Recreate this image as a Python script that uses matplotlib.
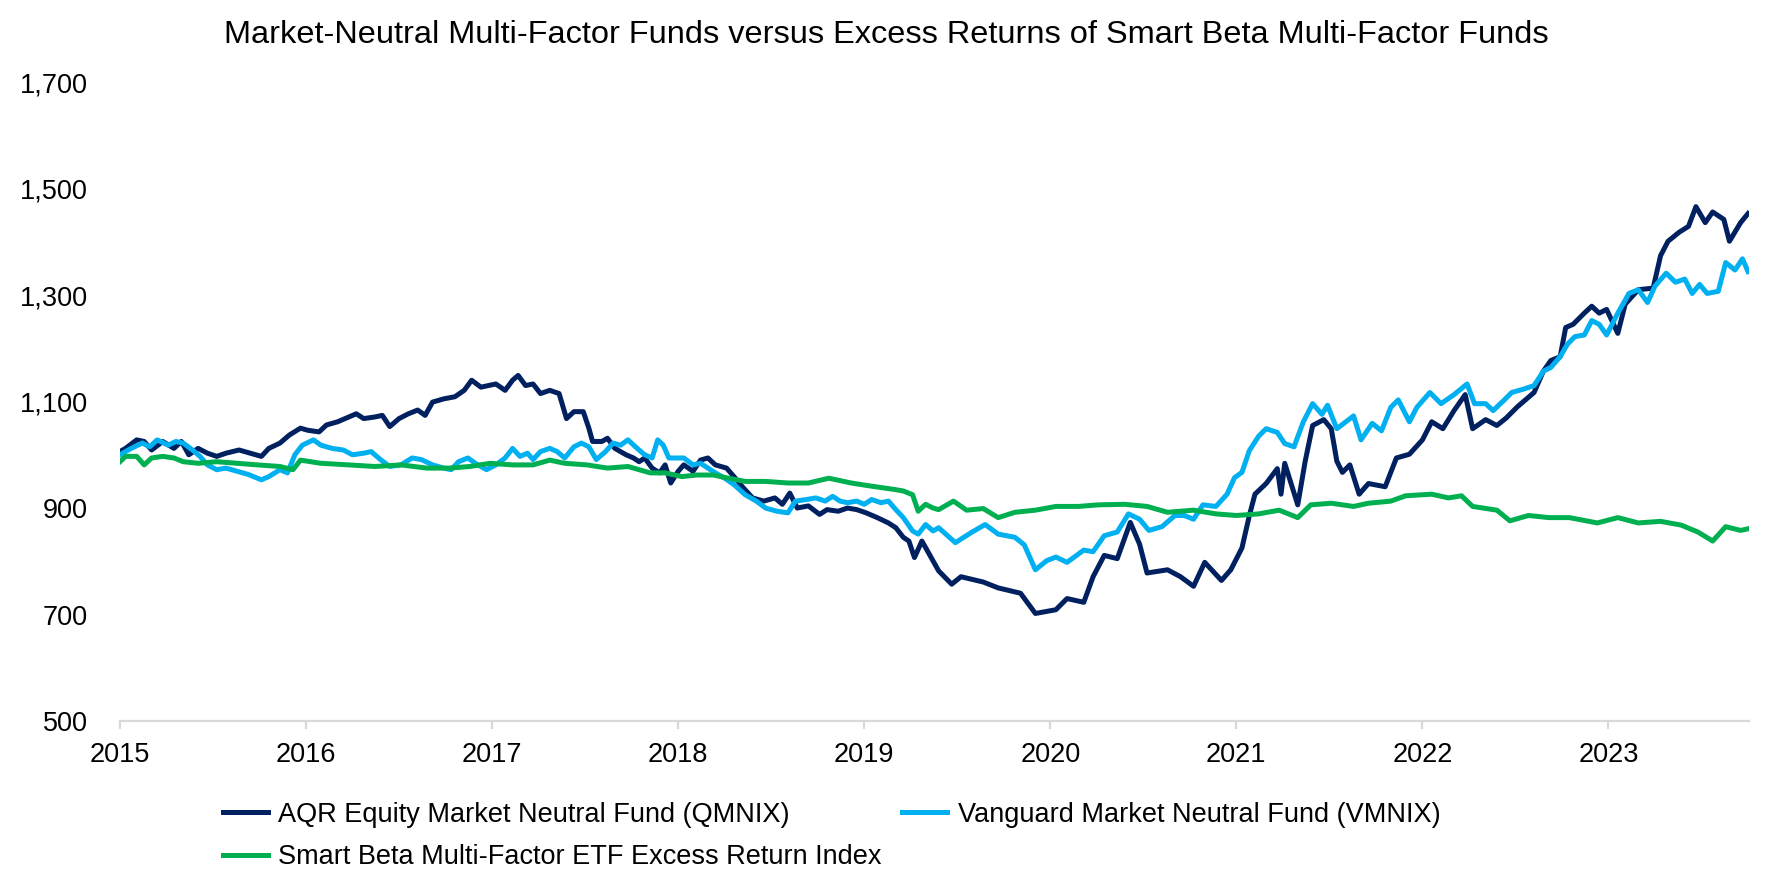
import matplotlib
matplotlib.use('Agg')
import matplotlib.pyplot as plt
from matplotlib.ticker import FuncFormatter

plt.rcParams['font.family'] = ['Liberation Sans', 'DejaVu Sans']

# values (decimal year, index level)
aqr_t = [2015.00, 2015.03, 2015.09, 2015.13, 2015.17, 2015.23, 2015.29, 2015.33, 2015.37, 2015.42,
         2015.47, 2015.52, 2015.57, 2015.64, 2015.70, 2015.76, 2015.80, 2015.86, 2015.91, 2015.97,
         2016.01, 2016.07, 2016.11, 2016.17, 2016.23, 2016.27, 2016.31, 2016.37, 2016.41, 2016.45,
         2016.50, 2016.55, 2016.60, 2016.64, 2016.68, 2016.74, 2016.80, 2016.85, 2016.89, 2016.94,
         2016.98, 2017.02, 2017.07, 2017.11, 2017.14, 2017.18, 2017.22, 2017.26, 2017.31, 2017.36,
         2017.40, 2017.44, 2017.49, 2017.52, 2017.54, 2017.59, 2017.62, 2017.66, 2017.72, 2017.76,
         2017.79, 2017.82, 2017.86, 2017.90, 2017.93, 2017.96, 2018.00, 2018.03, 2018.08, 2018.12,
         2018.16, 2018.20, 2018.26, 2018.30, 2018.35, 2018.40, 2018.46, 2018.52, 2018.56, 2018.60,
         2018.64, 2018.70, 2018.76, 2018.80, 2018.86, 2018.91, 2018.96, 2019.01, 2019.07, 2019.13,
         2019.17, 2019.21, 2019.24, 2019.27, 2019.31, 2019.36, 2019.40, 2019.47, 2019.52, 2019.64,
         2019.72, 2019.84, 2019.92, 2020.03, 2020.09, 2020.18, 2020.23, 2020.29, 2020.36, 2020.43,
         2020.48, 2020.52, 2020.63, 2020.70, 2020.77, 2020.83, 2020.92, 2020.97, 2021.03, 2021.07,
         2021.10, 2021.16, 2021.22, 2021.24, 2021.26, 2021.33, 2021.37, 2021.41, 2021.47, 2021.51,
         2021.54, 2021.57, 2021.61, 2021.66, 2021.71, 2021.80, 2021.86, 2021.93, 2022.00, 2022.05,
         2022.11, 2022.17, 2022.23, 2022.27, 2022.34, 2022.40, 2022.45, 2022.51, 2022.60, 2022.65,
         2022.69, 2022.74, 2022.77, 2022.81, 2022.87, 2022.91, 2022.95, 2022.99, 2023.05, 2023.09,
         2023.16, 2023.24, 2023.28, 2023.32, 2023.38, 2023.43, 2023.47, 2023.52, 2023.56, 2023.62,
         2023.65, 2023.71, 2023.75]
aqr_v = [1006, 1012, 1028, 1025, 1009, 1025, 1012, 1025, 1000, 1012,
         1003, 997, 1003, 1009, 1003, 997, 1012, 1022, 1037, 1050,
         1046, 1043, 1056, 1062, 1071, 1077, 1068, 1071, 1074, 1053,
         1068, 1077, 1084, 1074, 1099, 1105, 1109, 1121, 1140, 1127,
         1130, 1133, 1121, 1140, 1149, 1130, 1133, 1115, 1121, 1115,
         1068, 1081, 1081, 1050, 1025, 1025, 1031, 1012, 1000, 994,
         987, 994, 975, 966, 981, 947, 969, 981, 969, 990,
         994, 981, 975, 959, 938, 919, 913, 919, 907, 928,
         900, 904, 888, 897, 894, 900, 897, 891, 882, 872,
         863, 845, 838, 807, 838, 807, 782, 757, 771, 761,
         750, 740, 702, 709, 730, 723, 771, 811, 805, 873,
         832, 778, 784, 771, 753, 798, 764, 784, 825, 886,
         926, 946, 974, 926, 984, 906, 988, 1055, 1066, 1049,
         988, 967, 981, 926, 946, 940, 994, 1001, 1028, 1062,
         1049, 1083, 1113, 1049, 1066, 1055, 1069, 1090, 1117, 1157,
         1177, 1184, 1239, 1245, 1266, 1279, 1266, 1273, 1228, 1283,
         1310, 1313, 1374, 1401, 1418, 1429, 1466, 1436, 1456, 1442,
         1401, 1436, 1453]

vmnix_t = [2015.00, 2015.06, 2015.12, 2015.16, 2015.20, 2015.26, 2015.30, 2015.34, 2015.39, 2015.43,
           2015.47, 2015.52, 2015.57, 2015.63, 2015.69, 2015.76, 2015.80, 2015.86, 2015.90, 2015.94,
           2015.98, 2016.04, 2016.08, 2016.14, 2016.20, 2016.25, 2016.31, 2016.35, 2016.40, 2016.45,
           2016.51, 2016.57, 2016.62, 2016.68, 2016.74, 2016.78, 2016.82, 2016.87, 2016.91, 2016.97,
           2017.02, 2017.07, 2017.11, 2017.15, 2017.19, 2017.22, 2017.26, 2017.31, 2017.35, 2017.39,
           2017.44, 2017.48, 2017.52, 2017.56, 2017.61, 2017.65, 2017.69, 2017.73, 2017.78, 2017.82,
           2017.86, 2017.89, 2017.92, 2017.95, 2017.99, 2018.03, 2018.08, 2018.12, 2018.16, 2018.20,
           2018.25, 2018.30, 2018.36, 2018.42, 2018.47, 2018.53, 2018.59, 2018.63, 2018.69, 2018.74,
           2018.79, 2018.83, 2018.87, 2018.91, 2018.96, 2019.00, 2019.04, 2019.09, 2019.13, 2019.17,
           2019.21, 2019.26, 2019.29, 2019.33, 2019.37, 2019.40, 2019.49, 2019.58, 2019.65, 2019.72,
           2019.81, 2019.86, 2019.92, 2019.98, 2020.03, 2020.09, 2020.18, 2020.23, 2020.29, 2020.36,
           2020.42, 2020.48, 2020.53, 2020.60, 2020.67, 2020.72, 2020.77, 2020.82, 2020.89, 2020.95,
           2020.99, 2021.03, 2021.07, 2021.12, 2021.16, 2021.22, 2021.26, 2021.31, 2021.36, 2021.41,
           2021.46, 2021.49, 2021.54, 2021.63, 2021.67, 2021.73, 2021.78, 2021.83, 2021.87, 2021.93,
           2021.97, 2022.04, 2022.10, 2022.17, 2022.24, 2022.28, 2022.34, 2022.38, 2022.44, 2022.48,
           2022.54, 2022.60, 2022.65, 2022.69, 2022.74, 2022.78, 2022.82, 2022.87, 2022.91, 2022.95,
           2022.99, 2023.05, 2023.11, 2023.16, 2023.21, 2023.25, 2023.31, 2023.36, 2023.41, 2023.45,
           2023.49, 2023.53, 2023.59, 2023.63, 2023.68, 2023.72, 2023.75]
vmnix_v = [1000, 1012, 1022, 1015, 1028, 1018, 1025, 1022, 1009, 997,
           981, 972, 975, 969, 963, 953, 959, 972, 966, 1000,
           1018, 1028, 1018, 1012, 1009, 1000, 1003, 1006, 991, 978,
           981, 994, 991, 981, 975, 972, 987, 994, 984, 972,
           981, 994, 1012, 997, 1003, 991, 1006, 1012, 1006, 994,
           1015, 1022, 1015, 991, 1006, 1022, 1018, 1028, 1012, 1000,
           994, 1028, 1018, 994, 994, 994, 981, 984, 975, 966,
           956, 944, 925, 913, 900, 894, 891, 913, 916, 919,
           913, 922, 913, 910, 913, 907, 916, 910, 913, 897,
           882, 857, 851, 869, 857, 863, 835, 855, 869, 851,
           845, 831, 784, 801, 808, 798, 821, 818, 848, 855,
           889, 879, 858, 865, 886, 886, 879, 906, 903, 926,
           957, 967, 1008, 1035, 1049, 1042, 1021, 1015, 1062, 1096,
           1076, 1093, 1049, 1073, 1028, 1059, 1045, 1089, 1103, 1062,
           1089, 1117, 1096, 1113, 1133, 1096, 1096, 1083, 1103, 1117,
           1123, 1130, 1157, 1164, 1184, 1208, 1222, 1225, 1252, 1245,
           1225, 1266, 1303, 1310, 1286, 1317, 1341, 1324, 1330, 1303,
           1320, 1303, 1307, 1361, 1347, 1368, 1344]

smart_t = [2015.00, 2015.03, 2015.09, 2015.13, 2015.17, 2015.23, 2015.29, 2015.34, 2015.42, 2015.52,
           2015.63, 2015.74, 2015.86, 2015.93, 2015.97, 2016.08, 2016.23, 2016.37, 2016.51, 2016.65,
           2016.77, 2016.88, 2016.99, 2017.11, 2017.22, 2017.31, 2017.39, 2017.51, 2017.62, 2017.73,
           2017.85, 2017.93, 2018.02, 2018.10, 2018.19, 2018.27, 2018.36, 2018.47, 2018.59, 2018.70,
           2018.81, 2018.93, 2019.04, 2019.16, 2019.21, 2019.26, 2019.29, 2019.33, 2019.37, 2019.40,
           2019.48, 2019.55, 2019.64, 2019.72, 2019.81, 2019.92, 2020.03, 2020.15, 2020.26, 2020.40,
           2020.52, 2020.63, 2020.77, 2020.89, 2021.00, 2021.12, 2021.23, 2021.33, 2021.40, 2021.51,
           2021.63, 2021.71, 2021.83, 2021.91, 2022.05, 2022.14, 2022.21, 2022.27, 2022.40, 2022.47,
           2022.57, 2022.68, 2022.79, 2022.94, 2023.05, 2023.16, 2023.28, 2023.39, 2023.48, 2023.56,
           2023.63, 2023.71, 2023.75]
smart_v = [987, 997, 997, 981, 994, 997, 994, 987, 984, 987,
           984, 981, 978, 972, 990, 984, 981, 978, 981, 975,
           975, 978, 984, 981, 981, 990, 984, 981, 975, 978,
           966, 966, 959, 962, 962, 956, 950, 950, 947, 947,
           956, 947, 941, 935, 932, 925, 894, 907, 900, 897,
           913, 896, 899, 882, 892, 896, 903, 903, 906, 907,
           903, 892, 896, 889, 886, 889, 896, 882, 906, 909,
           903, 909, 913, 923, 926, 919, 923, 903, 896, 876,
           886, 882, 882, 872, 882, 872, 875, 868, 855, 838,
           865, 858, 861]

labels = ['AQR Equity Market Neutral Fund (QMNIX)',
          'Vanguard Market Neutral Fund (VMNIX)',
          'Smart Beta Multi-Factor ETF Excess Return Index']
colors = ['#002060', '#00B0F0', '#00B050']
years = list(range(2015, 2024))

fig = plt.figure(figsize=(17.72, 8.86), dpi=100)
ax = fig.add_axes([0.0677, 0.1862, 0.9193, 0.7212])

l1, = ax.plot(aqr_t, aqr_v, color=colors[0], lw=3.6, label=labels[0])
l2, = ax.plot(vmnix_t, vmnix_v, color=colors[1], lw=3.6, label=labels[1])
l3, = ax.plot(smart_t, smart_v, color=colors[2], lw=3.6, label=labels[2])

ax.set_xlim(2015.0, 2023.755)
ax.set_ylim(500, 1700)
ax.set_yticks(range(500, 1701, 200))
ax.set_xticks(years)
ax.set_xticklabels([str(y) for y in years])
ax.yaxis.set_major_formatter(FuncFormatter(lambda v, p: '{:,.0f}'.format(v)))

for s in ['top', 'right', 'left']:
    ax.spines[s].set_visible(False)
ax.spines['bottom'].set_color('#d9d9d9')
ax.spines['bottom'].set_linewidth(1.6)
ax.tick_params(axis='x', colors='#d9d9d9', length=6, width=1.6, pad=9,
               labelcolor='black', labelsize=19.5)
ax.tick_params(axis='y', length=0, pad=23, labelsize=19.5)

fig.text(0.5, 0.96, 'Market-Neutral Multi-Factor Funds versus Excess Returns of Smart Beta Multi-Factor Funds',
         ha='center', va='center', fontsize=23.4)

# column-wise fill: AQR + Smart Beta in first column, Vanguard in second
fig.legend([l1, l3, l2], [labels[0], labels[2], labels[1]], ncol=2,
           loc='upper left', bbox_to_anchor=(0.1258, 0.095), frameon=False,
           fontsize=19.5, handlelength=1.65, handletextpad=0.4, columnspacing=0.75,
           labelspacing=0.6, borderpad=0, borderaxespad=0)

fig.savefig('out.png', dpi=100)
